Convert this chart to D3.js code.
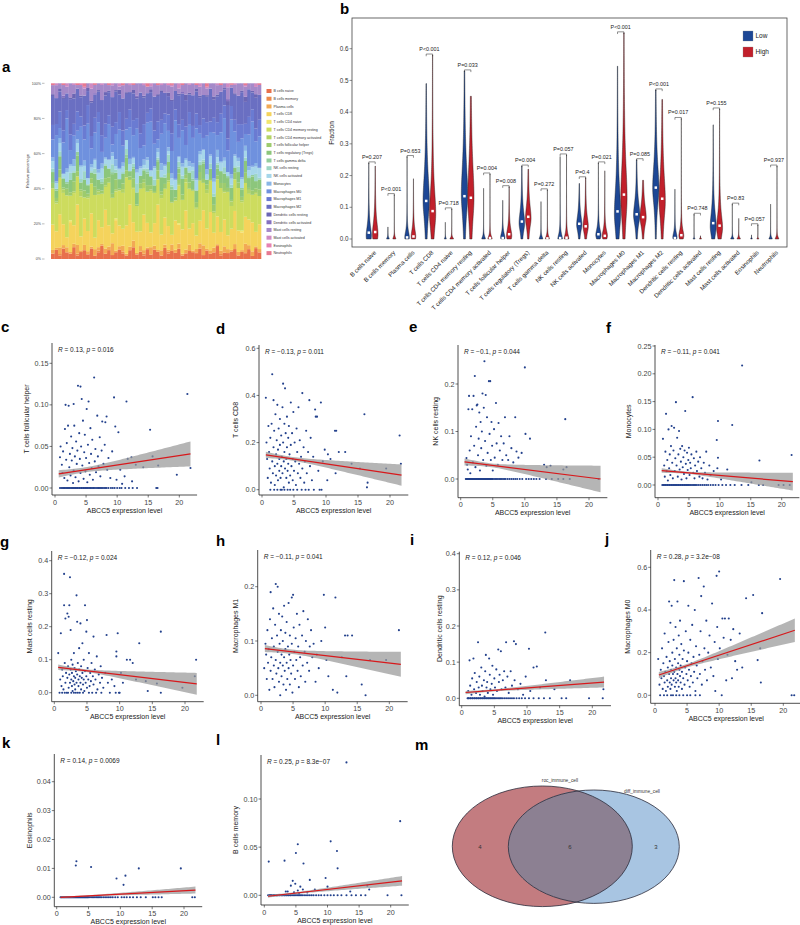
<!DOCTYPE html>
<html><head><meta charset="utf-8">
<script src="https://cdn.jsdelivr.net/npm/d3@7"></script>
<style>body{margin:0;background:#fff}svg{display:block;font-family:"Liberation Sans",Arial,sans-serif}</style>
</head><body><svg id="fig" width="800" height="925"></svg>
<script>
// ================= DATA =================
const cellTypes = ["B cells naive","B cells memory","Plasma cells","T cells CD8","T cells CD4 naive","T cells CD4 memory resting","T cells CD4 memory activated","T cells follicular helper","T cells regulatory (Tregs)","T cells gamma delta","NK cells resting","NK cells activated","Monocytes","Macrophages M0","Macrophages M1","Macrophages M2","Dendritic cells resting","Dendritic cells activated","Mast cells resting","Mast cells activated","Eosinophils","Neutrophils"];
const cellColors = ["#e8704c","#ec8a4c","#f2a955","#f5d35c","#f1e66e","#cddc5e","#b3d365","#9dcb6e","#8cc67c","#93cd9e","#9ed6c6","#a6d6ea","#8ab6e6","#6f91de","#6a7bd2","#6a6fc2","#6b66b4","#8470c0","#a58ac9","#cf8bc2","#e682b2","#e77a92"];

// panel a: per-sample relative amounts (each sample normalised to 100%)
const fBn   = [3,5,2,6,4,3,7,2,4,5,3,6,2,4,8,3,5,2,4,6,3,2,5,7,3,4,2,6,3,5,4,2,7,3,5,4,6,2,3,5,4,3,6,2,5,3,4,7,2,4,3,5,6,2,4,3,5,2,6,4];
const fBm   = [0,0,1,0,0,0,0,1,0,0,0,0,0,1,0,0,0,0,0,0,1,0,0,0,0,0,1,0,0,0,0,0,0,1,0,0,0,0,0,0,0,1,0,0,0,0,0,0,1,0,0,0,0,0,0,1,0,0,0,0];
const fPc   = [2,1,4,2,3,1,2,5,1,3,2,1,4,2,1,3,2,6,1,2,3,1,2,4,1,3,2,1,5,2,1,3,2,1,4,2,3,1,2,4,1,2,3,5,1,2,3,1,2,4,2,1,3,2,1,5,2,3,1,2];
const fCd8  = [14,9,20,12,6,17,11,23,8,15,13,19,7,16,10,22,12,5,18,13,9,16,24,11,14,8,20,15,10,12,25,9,17,13,6,19,11,14,21,10,16,8,13,18,12,22,9,15,11,17,7,14,20,12,10,16,13,19,8,15];
const fCd4n = [0,0,0,0,0,1,0,0,0,0,0,0,0,0,0,0,0,0,1,0,0,0,0,0,0,0,0,0,0,0,0,0,0,0,0,0,1,0,0,0,0,0,0,0,0,0,0,0,0,0,0,0,0,0,1,0,0,0,0,0];
const fCd4r = [20,15,22,18,25,14,19,16,23,12,21,17,26,15,20,13,24,18,16,22,19,27,14,20,17,23,15,19,28,16,14,21,18,24,20,13,22,17,15,25,19,16,23,14,21,18,12,20,26,17,22,15,19,24,16,20,13,18,21,17];
const fCd4a = [0,1,0,2,0,0,1,0,3,0,1,0,0,2,0,1,0,0,1,0,2,0,0,1,0,0,3,0,1,0,0,2,0,1,0,0,1,0,2,0,0,1,0,0,2,0,1,0,0,1,0,3,0,0,1,0,2,0,1,0];
const fTfh  = [3,2,5,1,4,2,6,3,1,4,2,3,5,1,2,4,3,2,6,1,3,4,2,5,1,3,2,4,3,1,5,2,3,4,1,2,6,3,2,4,1,3,5,2,3,1,4,2,3,5,2,1,4,3,2,6,1,3,2,4];
const fTreg = [6,4,8,5,3,7,5,9,4,6,5,3,8,6,4,7,5,10,4,6,5,7,3,6,8,4,5,7,6,3,5,8,4,6,7,5,3,9,4,6,5,7,4,8,3,6,5,4,7,6,5,8,3,6,4,7,5,9,4,6];
const fGd   = [0,1,0,0,1,0,0,2,0,0,1,0,0,0,1,0,0,1,0,0,0,2,0,1,0,0,0,1,0,0,1,0,0,0,2,0,1,0,0,0,1,0,0,1,0,0,0,2,0,0,1,0,0,0,1,0,0,1,0,0];
const fNkr  = [2,0,3,1,0,4,1,0,2,5,0,1,3,0,2,1,0,4,2,0,1,3,0,2,6,0,1,2,0,3,1,0,2,4,1,0,3,2,0,1,5,0,2,1,0,3,2,1,0,4,0,2,1,3,0,2,1,0,4,1];
const fNka  = [4,3,5,2,6,4,3,5,7,3,4,2,5,4,6,3,5,4,2,6,3,5,4,3,7,4,2,5,4,6,3,4,5,2,4,6,3,5,4,3,2,6,4,5,3,4,7,3,5,4,2,4,6,3,5,4,3,5,4,6];
const fMono = [2,1,3,0,2,1,4,2,1,3,0,2,1,2,3,1,0,2,4,1,2,0,3,1,2,1,3,2,0,1,2,4,1,2,3,1,0,2,1,3,2,1,2,0,3,1,2,4,1,2,0,3,1,2,1,3,2,1,2,0];
const fM0   = [10,25,6,18,30,8,14,5,22,12,35,9,16,28,7,11,20,4,15,24,9,6,18,13,27,10,8,21,33,12,5,17,26,9,14,38,11,19,7,23,15,30,10,6,20,13,28,8,17,25,11,36,14,9,22,7,16,29,12,19];
const fM1   = [8,6,10,7,5,9,7,11,6,8,12,7,9,6,10,8,5,9,7,11,8,6,10,9,7,8,12,6,9,7,10,8,6,9,11,7,8,6,10,8,7,9,5,10,8,6,9,7,11,8,6,9,7,10,8,6,9,8,7,10];
const fM2   = [16,14,12,18,10,20,15,13,11,17,9,19,14,12,21,16,13,15,18,11,17,14,10,16,13,22,15,12,11,18,14,16,13,10,20,12,17,15,14,11,18,13,16,12,15,19,11,14,13,10,17,12,15,16,18,13,14,11,17,15];
const fDcr  = [1,0,2,1,0,1,3,0,1,0,2,1,0,1,0,2,1,0,1,3,0,1,0,2,1,0,1,0,2,0,1,1,0,2,1,0,1,0,3,1,0,2,1,0,1,0,2,1,0,1,2,0,1,0,1,3,0,1,2,0];
const fDca  = [0,0,0,1,0,0,0,0,0,0,0,0,1,0,0,0,0,0,0,0,0,0,0,0,1,0,0,0,0,0,0,0,0,0,0,0,0,1,0,0,0,0,0,0,0,0,0,0,0,0,1,0,0,0,0,0,0,0,0,0];
const fMastr= [5,7,3,6,4,8,5,2,6,4,3,7,5,4,9,5,3,6,4,2,7,5,4,3,8,5,6,4,2,7,5,3,6,4,8,5,3,4,6,5,7,2,5,6,4,3,8,5,4,3,6,2,5,7,4,6,3,5,4,6];
const fMasta= [0,1,0,0,2,0,1,0,0,1,0,3,0,0,1,0,0,1,0,2,0,0,1,0,0,0,1,0,2,0,0,1,0,0,1,0,3,0,0,1,0,0,2,0,1,0,0,1,0,0,2,0,1,0,0,1,0,0,2,0];
const fEos  = [0,0,0,0,0,0,0,0,1,0,0,0,0,0,0,0,0,0,0,0,0,0,0,0,0,0,0,0,0,0,0,0,0,1,0,0,0,0,0,0,0,0,0,0,0,0,0,0,0,0,0,0,0,0,0,0,0,0,0,0];
const fNeut = [1,0,0,1,0,0,0,1,0,2,0,0,1,0,0,0,1,0,0,0,1,0,0,1,0,0,0,2,0,0,1,0,0,0,1,0,0,1,0,0,0,1,0,0,2,0,0,0,1,0,0,1,0,0,0,1,0,0,0,1];
const sampleFractions = [fBn,fBm,fPc,fCd8,fCd4n,fCd4r,fCd4a,fTfh,fTreg,fGd,fNkr,fNka,fMono,fM0,fM1,fM2,fDcr,fDca,fMastr,fMasta,fEos,fNeut];
const percentTicks = [0,0.2,0.4,0.6,0.8,1];

// panel b: violins (Low / High ABCC5 groups)
const lowTop   = [0.24,0.038,0.26,0.49,0.053,0.53,0.16,0.122,0.23,0.118,0.26,0.175,0.24,0.545,0.25,0.47,0.157,0.078,0.36,0.11,0.013,0.11];
const highTop  = [0.23,0.14,0.19,0.58,0.095,0.45,0.205,0.165,0.22,0.155,0.265,0.193,0.215,0.65,0.185,0.44,0.38,0.01,0.41,0.065,0.045,0.23];
const lowMed   = [0.02,0,0.005,0.12,0,0.135,0,0.003,0.055,0,0.003,0.048,0.015,0.087,0.078,0.162,0.003,0,0.05,0.002,0,0.003];
const highMed  = [0.022,0.003,0.008,0.088,0.003,0.13,0.003,0.015,0.07,0.002,0.004,0.04,0.01,0.14,0.069,0.127,0.012,0,0.042,0.002,0,0.004];
const lowPeak  = [0.01,0,0.005,0.12,0,0.14,0,0.005,0.05,0,0,0.045,0.012,0.08,0.075,0.16,0.005,0,0.04,0,0,0];
const highPeak = [0.015,0,0.008,0.08,0,0.13,0,0.01,0.065,0,0,0.04,0.01,0.13,0.068,0.12,0.01,0,0.035,0,0,0];
const lowWidth = [0.8,0.4,0.7,0.95,0.3,0.95,0.55,0.65,0.85,0.55,0.7,0.8,0.8,0.95,0.95,0.95,0.65,0.3,0.9,0.5,0.25,0.5];
const highWidth= [0.85,0.45,0.7,0.95,0.55,0.95,0.65,0.8,0.85,0.6,0.7,0.8,0.8,0.95,0.95,0.95,0.75,0.3,0.9,0.5,0.3,0.55];
const lowSpread= [0.04,0.006,0.025,0.11,0.005,0.13,0.01,0.018,0.05,0.01,0.02,0.04,0.025,0.11,0.055,0.1,0.02,0.003,0.06,0.006,0.003,0.007];
const highSpread=[0.05,0.008,0.03,0.1,0.006,0.14,0.012,0.03,0.055,0.012,0.02,0.04,0.025,0.14,0.05,0.11,0.025,0.003,0.055,0.006,0.003,0.008];
const pLabels  = ["P=0.207","P<0.001","P=0.653","P<0.001","P=0.718","P=0.033","P=0.004","P=0.008","P=0.004","P=0.272","P=0.057","P=0.4","P=0.021","P<0.001","P=0.085","P<0.001","P=0.017","P=0.748","P=0.155","P=0.83","P=0.057","P=0.937"];
const fractionTicks = [0,0.1,0.2,0.3,0.4,0.5,0.6];
const groupNames = ["Low","High"];
const groupColors = ["#1d4795","#c1202b"];

// scatter panels c..l  (x = ABCC5 expression level, y = fraction)
const ptsC = [[0.8,0.037],[0.9,0.05],[1.1,0.028],[1.2,0.018],[1.3,0.044],[1.5,0.012],[1.6,0.071],[1.7,0.1],[1.8,0.034],[1.9,0.054],[2.0,0.009],[2.1,0.075],[2.2,0.099],[2.3,0.025],[2.4,0.041],[2.5,0.015],[2.6,0.062],[2.7,0.033],[2.8,0.048],[2.9,0.006],[3.0,0.101],[3.0,0.021],[3.1,0.075],[3.2,0.038],[3.3,0.013],[3.4,0.056],[3.5,0.029],[3.6,0.045],[3.7,0.123],[3.8,0.008],[3.9,0.066],[4.0,0.035],[4.1,0.122],[4.1,0.018],[4.2,0.05],[4.3,0.107],[4.4,0.027],[4.5,0.081],[4.6,0.011],[4.7,0.043],[4.8,0.064],[4.9,0.02],[5.0,0.036],[5.1,0.095],[5.2,0.007],[5.3,0.052],[5.4,0.104],[5.5,0.03],[5.6,0.016],[5.7,0.072],[5.8,0.041],[5.9,0.024],[6.0,0.058],[6.1,0.01],[6.3,0.133],[6.4,0.032],[6.5,0.047],[6.6,0.019],[6.8,0.087],[6.9,0.038],[7.0,0.026],[7.2,0.061],[7.3,0.014],[7.5,0.045],[7.6,0.08],[7.8,0.029],[8.0,0.052],[8.1,0.079],[8.3,0.086],[8.4,0.022],[8.6,0.036],[8.9,0.012],[9.2,0.044],[9.5,0.109],[9.7,0.074],[9.9,0.01],[10.2,0.067],[10.5,0.022],[10.8,0.005],[11.2,0.014],[11.5,0.104],[11.7,0.035],[12.3,0.037],[12.4,0.008],[13.0,0.028],[14.2,0.025],[15.3,0.07],[15.7,0.038],[16.6,0.027],[19.6,0.016],[21.3,0.113],[21.8,0.024]];
const zeroC = [0.8,1.0,1.2,1.4,1.5,1.7,1.9,2.0,2.2,2.3,2.5,2.7,2.8,3.0,3.1,3.3,3.4,3.6,3.7,3.9,4.0,4.2,4.3,4.5,4.6,4.8,4.9,5.1,5.2,5.4,5.6,5.7,5.9,6.1,6.2,6.4,6.6,6.8,7.0,7.1,7.3,7.5,7.7,7.9,8.1,8.3,8.6,9.0,9.3,9.6,10.0,10.4,10.7,11.3,11.9,12.5,13.2,16.3,16.5];
const ptsD = [[0.6,0.39],[0.7,0.2],[0.8,0.13],[0.9,0.05],[1.0,0.27],[1.1,0.16],[1.2,0.09],[1.3,0.22],[1.4,0.03],[1.5,0.28],[1.6,0.49],[1.6,0.12],[1.7,0.07],[1.8,0.38],[1.8,0.18],[1.9,0.25],[2.0,0.1],[2.0,0.02],[2.1,0.32],[2.2,0.15],[2.2,0.06],[2.3,0.21],[2.4,0.11],[2.4,0.36],[2.5,0.04],[2.5,0.17],[2.6,0.26],[2.7,0.08],[2.7,0.13],[2.8,0.3],[2.8,0.19],[2.9,0.05],[3.0,0.23],[3.0,0.1],[3.1,0.14],[3.2,0.35],[3.2,0.07],[3.3,0.45],[3.3,0.2],[3.4,0.12],[3.4,0.01],[3.5,0.28],[3.5,0.16],[3.6,0.43],[3.6,0.09],[3.7,0.24],[3.8,0.05],[3.8,0.13],[3.9,0.31],[3.9,0.18],[4.0,0.08],[4.1,0.22],[4.1,0.11],[4.2,0.03],[4.2,0.27],[4.3,0.15],[4.4,0.06],[4.5,0.37],[4.5,0.19],[4.6,0.1],[4.7,0.24],[4.8,0.13],[4.8,0.04],[4.9,0.33],[5.0,0.08],[5.1,0.2],[5.2,0.12],[5.3,0.02],[5.4,0.26],[5.5,0.16],[5.6,0.07],[5.7,0.35],[5.8,0.11],[5.9,0.21],[6.0,0.05],[6.1,0.14],[6.3,0.41],[6.3,0.09],[6.5,0.18],[6.6,0.03],[6.7,0.12],[6.9,0.25],[7.0,0.07],[7.2,0.16],[7.4,0.38],[7.5,0.1],[7.6,0.22],[7.8,0.04],[8.0,0.14],[8.3,0.34],[8.4,0.31],[8.6,0.31],[8.8,0.08],[9.2,0.37],[9.3,0.0],[9.5,0.12],[9.8,0.17],[10.3,0.15],[10.2,0.04],[10.7,0.13],[11.4,0.25],[11.6,0.25],[11.5,0.07],[12.0,0.16],[13.0,0.16],[14.0,0.11],[15.3,0.09],[16.0,0.32],[16.4,0.01],[16.5,0.03],[19.4,0.09],[21.5,0.23],[21.7,0.11]];
const zeroD = [1.3,1.9,2.4,2.9,3.1,3.5,4.0,4.4,4.9,5.5,6.2,6.8,7.3,8.1,9.0];
const ptsE = [[0.9,0.044],[1.0,0.03],[1.1,0.02],[1.2,0.147],[1.3,0.175],[1.4,0.06],[1.5,0.012],[1.6,0.09],[1.8,0.147],[1.9,0.035],[2.0,0.175],[2.1,0.07],[2.2,0.217],[2.3,0.025],[2.4,0.11],[2.5,0.155],[2.6,0.157],[2.7,0.05],[2.8,0.085],[2.9,0.14],[3.0,0.018],[3.1,0.12],[3.2,0.065],[3.3,0.1],[3.4,0.18],[3.5,0.04],[3.6,0.15],[3.7,0.248],[3.8,0.08],[3.9,0.177],[4.0,0.028],[4.1,0.13],[4.2,0.055],[4.4,0.206],[4.5,0.095],[4.6,0.206],[4.7,0.04],[4.8,0.12],[4.9,0.07],[5.0,0.018],[5.2,0.105],[5.3,0.045],[5.5,0.16],[5.6,0.075],[5.8,0.03],[5.9,0.118],[6.1,0.06],[6.3,0.09],[6.5,0.04],[6.7,0.075],[6.9,0.13],[7.1,0.05],[7.4,0.04],[7.6,0.09],[7.9,0.065],[8.2,0.035],[8.5,0.13],[8.7,0.058],[9.0,0.045],[9.5,0.055],[10.0,0.235],[10.1,0.095],[10.8,0.085],[13.0,0.03],[13.4,0.025],[14.0,0.028],[16.0,0.02],[16.3,0.126],[16.5,0.025]];
const zeroE = [0.8,0.9,1.0,1.1,1.2,1.3,1.4,1.5,1.6,1.7,1.8,1.9,2.0,2.1,2.2,2.3,2.4,2.5,2.6,2.7,2.8,2.9,3.0,3.1,3.2,3.3,3.4,3.5,3.6,3.7,3.8,3.9,4.0,4.1,4.2,4.3,4.4,4.5,4.6,4.7,4.8,4.9,5.0,5.2,5.4,5.6,5.8,6.0,6.2,6.4,6.6,6.8,7.0,7.3,7.6,7.9,8.2,8.5,8.8,9.2,9.6,10.2,10.6,11.0,11.4,11.8,12.3,13.3,14.2,15.2,16.0,17.0,21.5];
const ptsF = [[0.8,0.083],[1.0,0.035],[1.1,0.015],[1.2,0.06],[1.3,0.128],[1.4,0.025],[1.5,0.045],[1.6,0.008],[1.7,0.1],[1.8,0.03],[1.9,0.055],[2.0,0.018],[2.1,0.07],[2.2,0.106],[2.3,0.04],[2.4,0.012],[2.5,0.062],[2.6,0.103],[2.7,0.025],[2.8,0.048],[2.9,0.149],[3.0,0.035],[3.1,0.085],[3.2,0.015],[3.3,0.055],[3.4,0.097],[3.5,0.028],[3.6,0.065],[3.7,0.042],[3.8,0.01],[3.9,0.07],[4.0,0.032],[4.1,0.05],[4.2,0.02],[4.3,0.062],[4.4,0.133],[4.5,0.038],[4.6,0.012],[4.7,0.058],[4.8,0.027],[4.9,0.045],[5.0,0.067],[5.1,0.018],[5.2,0.04],[5.3,0.03],[5.4,0.055],[5.6,0.158],[5.7,0.022],[5.8,0.048],[5.9,0.012],[6.0,0.035],[6.2,0.06],[6.3,0.025],[6.5,0.042],[6.7,0.015],[6.8,0.05],[7.0,0.03],[7.2,0.012],[7.4,0.04],[7.6,0.022],[7.8,0.06],[8.0,0.01],[8.3,0.035],[8.5,0.018],[9.0,0.025],[9.5,0.081],[9.6,0.03],[9.7,0.115],[9.7,0.049],[10.2,0.01],[11.2,0.028],[12.0,0.108],[13.6,0.215],[15.1,0.005],[16.4,0.044],[21.6,0.054]];
const zeroF = [0.7,0.9,1.0,1.2,1.3,1.5,1.6,1.8,1.9,2.1,2.2,2.4,2.5,2.7,2.8,3.0,3.1,3.3,3.4,3.6,3.7,3.9,4.0,4.2,4.3,4.5,4.6,4.8,4.9,5.1,5.3,5.5,5.7,5.9,6.1,6.3,6.6,6.9,7.2,7.5,7.8,8.1,8.5,8.9,9.3,9.8,10.4,11.0,11.7,12.4,13.5,14.6,16.3,17.0,19.5,20.3,21.3];
const ptsG = [[0.6,0.12],[0.8,0.0],[0.9,0.04],[1.0,0.18],[1.1,0.02],[1.2,0.07],[1.3,0.05],[1.4,0.01],[1.5,0.36],[1.5,0.265],[1.6,0.09],[1.7,0.225],[1.7,0.03],[1.8,0.06],[1.9,0.0],[2.0,0.24],[2.0,0.045],[2.1,0.08],[2.2,0.23],[2.2,0.015],[2.3,0.265],[2.3,0.055],[2.4,0.35],[2.4,0.03],[2.5,0.07],[2.5,0.19],[2.6,0.04],[2.6,0.1],[2.7,0.02],[2.7,0.06],[2.8,0.005],[2.8,0.085],[2.9,0.035],[3.0,0.05],[3.0,0.12],[3.1,0.025],[3.1,0.075],[3.2,0.01],[3.2,0.045],[3.3,0.065],[3.4,0.295],[3.4,0.03],[3.5,0.215],[3.5,0.055],[3.6,0.0],[3.6,0.09],[3.7,0.04],[3.7,0.02],[3.8,0.07],[3.8,0.135],[3.9,0.05],[4.0,0.21],[4.0,0.03],[4.1,0.08],[4.1,0.01],[4.2,0.045],[4.3,0.06],[4.3,0.15],[4.4,0.025],[4.5,0.1],[4.5,0.04],[4.6,0.005],[4.7,0.265],[4.7,0.065],[4.8,0.03],[4.9,0.185],[4.9,0.05],[5.0,0.22],[5.0,0.015],[5.1,0.075],[5.2,0.04],[5.3,0.12],[5.4,0.02],[5.5,0.06],[5.6,0.035],[5.7,0.09],[5.8,0.0],[5.9,0.05],[6.0,0.17],[6.0,0.025],[6.2,0.07],[6.3,0.04],[6.5,0.11],[6.6,0.01],[6.8,0.055],[7.0,0.03],[7.1,0.08],[7.3,0.045],[7.5,0.015],[7.8,0.06],[8.0,0.175],[8.2,0.03],[8.5,0.0],[8.8,0.04],[9.2,0.02],[9.5,0.11],[9.5,0.125],[9.7,0.18],[9.9,0.0],[10.2,0.06],[10.5,0.03],[11.1,0.1],[11.6,0.1],[12.0,0.09],[12.5,0.04],[13.0,0.15],[14.0,0.035],[14.3,0.005],[15.7,0.028],[16.3,0.185],[16.3,0.0],[19.6,0.015],[21.5,0.05],[21.7,0.1]];
const zeroG = [1.2,1.6,2.1,2.6,3.0,3.3,3.9,4.4,5.3,6.4,7.2,9.4,10.0];
const ptsH = [[0.5,0.05],[0.7,0.095],[0.8,0.075],[0.9,0.03],[1.0,0.12],[1.1,0.06],[1.2,0.085],[1.3,0.01],[1.4,0.14],[1.5,0.19],[1.5,0.045],[1.6,0.07],[1.7,0.105],[1.8,0.03],[1.9,0.16],[2.0,0.055],[2.0,0.09],[2.1,0.015],[2.2,0.13],[2.3,0.205],[2.3,0.065],[2.4,0.04],[2.5,0.11],[2.6,0.2],[2.6,0.08],[2.7,0.05],[2.8,0.15],[2.8,0.025],[2.9,0.095],[3.0,0.06],[3.0,0.0],[3.1,0.12],[3.2,0.075],[3.2,0.035],[3.3,0.145],[3.4,0.055],[3.4,0.1],[3.5,0.02],[3.6,0.165],[3.6,0.07],[3.7,0.045],[3.8,0.115],[3.8,0.085],[3.9,0.01],[4.0,0.06],[4.0,0.135],[4.1,0.03],[4.2,0.09],[4.3,0.05],[4.3,0.17],[4.4,0.075],[4.5,0.02],[4.5,0.11],[4.6,0.065],[4.7,0.04],[4.8,0.18],[4.8,0.095],[4.9,0.005],[5.0,0.185],[5.0,0.055],[5.1,0.125],[5.2,0.08],[5.3,0.03],[5.4,0.105],[5.5,0.065],[5.6,0.15],[5.7,0.045],[5.8,0.09],[5.9,0.015],[6.0,0.13],[6.1,0.07],[6.2,0.035],[6.4,0.11],[6.5,0.055],[6.6,0.155],[6.8,0.08],[6.9,0.025],[7.0,0.1],[7.2,0.06],[7.3,0.14],[7.5,0.045],[7.6,0.09],[7.8,0.12],[8.0,0.07],[8.2,0.095],[8.5,0.025],[8.7,0.075],[9.0,0.05],[9.4,0.1],[9.8,0.185],[10.0,0.125],[10.2,0.065],[10.5,0.035],[11.2,0.01],[11.6,0.18],[11.9,0.005],[12.6,0.07],[13.1,0.11],[13.3,0.035],[13.5,0.11],[14.2,0.11],[15.7,0.02],[16.3,0.0],[17.0,0.065],[19.5,0.065],[21.5,0.12]];
const zeroH = [];
const ptsI = [[1.0,0.02],[1.2,0.105],[1.3,0.035],[1.5,0.01],[1.6,0.055],[1.8,0.11],[1.9,0.025],[2.0,0.07],[2.2,0.015],[2.3,0.045],[2.5,0.155],[2.6,0.03],[2.7,0.06],[2.8,0.01],[3.0,0.085],[3.1,0.035],[3.2,0.02],[3.4,0.05],[3.5,0.005],[3.6,0.075],[3.7,0.12],[3.8,0.03],[3.9,0.045],[4.0,0.015],[4.2,0.11],[4.3,0.065],[4.4,0.025],[4.6,0.04],[4.7,0.09],[4.8,0.01],[5.0,0.055],[5.1,0.03],[5.3,0.08],[5.4,0.02],[5.6,0.135],[5.7,0.045],[5.8,0.065],[6.0,0.13],[6.1,0.025],[6.3,0.05],[6.5,0.075],[6.7,0.03],[6.8,0.155],[7.0,0.06],[7.2,0.015],[7.5,0.075],[7.7,0.035],[8.0,0.158],[8.1,0.05],[8.3,0.15],[8.6,0.025],[9.0,0.04],[9.4,0.01],[9.8,0.06],[10.3,0.137],[10.5,0.02],[11.0,0.085],[11.5,0.088],[12.0,0.03],[12.8,0.182],[12.9,0.05],[14.2,0.025],[16.6,0.05],[21.7,0.025]];
const zeroI = [0.9,1.0,1.1,1.3,1.4,1.6,1.7,1.9,2.0,2.2,2.3,2.5,2.6,2.8,2.9,3.1,3.2,3.4,3.5,3.7,3.8,4.0,4.1,4.3,4.4,4.6,4.7,4.9,5.0,5.2,5.4,5.6,5.8,6.0,6.2,6.5,6.8,7.1,7.4,7.7,8.0,8.4,8.8,9.2,9.7,10.3,11.0,11.8,12.6,13.5,15.3,16.0,19.5,21.6];
const ptsJ = [[0.5,0.17],[0.7,0.05],[0.8,0.0],[0.9,0.12],[1.0,0.08],[1.1,0.22],[1.2,0.03],[1.3,0.15],[1.4,0.09],[1.5,0.29],[1.5,0.06],[1.6,0.11],[1.7,0.02],[1.8,0.18],[1.9,0.07],[2.0,0.13],[2.0,0.04],[2.1,0.25],[2.2,0.44],[2.2,0.1],[2.3,0.06],[2.3,0.16],[2.4,0.03],[2.4,0.34],[2.5,0.12],[2.5,0.08],[2.6,0.42],[2.6,0.05],[2.7,0.2],[2.7,0.14],[2.8,0.1],[2.8,0.0],[2.9,0.07],[2.9,0.26],[3.0,0.54],[3.0,0.11],[3.1,0.04],[3.1,0.17],[3.2,0.32],[3.2,0.08],[3.3,0.13],[3.3,0.06],[3.4,0.22],[3.4,0.02],[3.5,0.44],[3.5,0.1],[3.6,0.15],[3.6,0.07],[3.7,0.28],[3.7,0.04],[3.8,0.12],[3.8,0.19],[3.9,0.09],[3.9,0.35],[4.0,0.06],[4.0,0.14],[4.1,0.24],[4.2,0.03],[4.2,0.11],[4.3,0.17],[4.4,0.08],[4.5,0.535],[4.5,0.21],[4.6,0.05],[4.7,0.13],[4.8,0.3],[4.9,0.1],[5.0,0.16],[5.0,0.0],[5.1,0.07],[5.2,0.42],[5.2,0.2],[5.3,0.12],[5.4,0.04],[5.5,0.26],[5.6,0.09],[5.7,0.15],[5.8,0.33],[5.9,0.06],[6.0,0.18],[6.1,0.11],[6.2,0.4],[6.3,0.02],[6.4,0.23],[6.5,0.14],[6.6,0.08],[6.8,0.55],[6.9,0.19],[7.0,0.1],[7.1,0.3],[7.2,0.465],[7.3,0.05],[7.4,0.16],[7.6,0.51],[7.7,0.22],[7.8,0.12],[8.0,0.35],[8.1,0.07],[8.3,0.2],[8.5,0.28],[8.7,0.13],[8.9,0.43],[9.1,0.09],[9.3,0.25],[9.4,0.02],[9.6,0.56],[9.7,0.32],[9.8,0.17],[10.0,0.58],[10.1,0.22],[10.4,0.0],[10.5,0.36],[10.7,0.27],[10.9,0.36],[11.1,0.07],[11.3,0.19],[11.5,0.36],[11.8,0.26],[12.0,0.08],[12.2,0.31],[12.5,0.16],[12.8,0.12],[13.2,0.29],[13.6,0.13],[14.2,0.455],[15.3,0.47],[16.0,0.165],[16.4,0.22],[16.5,0.06],[16.7,0.385],[19.5,0.545],[21.3,0.0],[21.7,0.0]];
const zeroJ = [1.4,1.9,2.5,3.3,3.8,4.4,5.5,6.3,7.0];
const ptsK = [[3.0,0.011],[3.1,0.0125],[5.4,0.0105],[9.4,0.0065],[10.5,0.0043],[10.8,0.0075],[12.9,0.01],[19.5,0.01]];
const zeroK = [0.6,0.7,0.8,0.9,1.0,1.1,1.2,1.3,1.4,1.5,1.6,1.7,1.8,1.9,2.0,2.1,2.2,2.3,2.4,2.5,2.6,2.7,2.8,2.9,3.0,3.1,3.2,3.3,3.4,3.5,3.6,3.7,3.8,3.9,4.0,4.1,4.2,4.3,4.4,4.5,4.6,4.7,4.8,4.9,5.0,5.2,5.4,5.6,5.8,6.0,6.2,6.4,6.6,6.8,7.0,7.3,7.6,7.9,8.2,8.5,8.8,9.2,9.6,10.2,10.6,11.0,11.5,12.0,12.6,13.2,14.0,15.1,15.5,16.0,16.5,21.3,21.7];
const ptsL = [[0.7,0.035],[3.2,0.036],[3.4,0.004],[3.7,0.004],[4.2,0.01],[4.5,0.015],[4.7,0.003],[4.9,0.012],[5.0,0.044],[5.3,0.053],[5.3,0.005],[5.5,0.002],[5.7,0.009],[6.1,0.006],[6.2,0.033],[6.8,0.003],[7.2,0.016],[8.0,0.006],[9.7,0.018],[10.0,0.009],[10.5,0.056],[11.5,0.046],[11.6,0.028],[13.0,0.138],[13.6,0.004],[16.3,0.01],[16.6,0.006],[21.5,0.077]];
const zeroL = [0.6,0.8,0.9,1.0,1.1,1.2,1.4,1.5,1.6,1.7,1.9,2.0,2.1,2.3,2.4,2.5,2.7,2.8,2.9,3.1,3.2,3.3,3.5,3.6,3.8,3.9,4.1,4.2,4.4,4.6,4.8,5.0,5.2,5.4,5.6,5.8,6.0,6.3,6.6,6.9,7.2,7.5,7.8,8.2,8.6,9.0,9.5,10.0,10.5,11.0,11.6,12.2,13.0,13.8,14.5,15.3,16.0,19.5,21.7];

const scatterKeys   = ["c","d","e","f","g","h","i","j","k","l"];
const scatterPoints = [ptsC,ptsD,ptsE,ptsF,ptsG,ptsH,ptsI,ptsJ,ptsK,ptsL];
const scatterZeros  = [zeroC,zeroD,zeroE,zeroF,zeroG,zeroH,zeroI,zeroJ,zeroK,zeroL];
const scatterYTitles= ["T cells follicular helper","T cells CD8","NK cells resting","Monocytes","Mast cells resting","Macrophages M1","Dendritic cells resting","Macrophages M0","Eosinophils","B cells memory"];
const statR = ["0.13","\u22120.13","\u22120.1","\u22120.11","\u22120.12","\u22120.11","0.12","0.28","0.14","0.25"];
const statP = ["0.016","0.011","0.044","0.041","0.024","0.041","0.046","3.2e\u221208","0.0069","8.3e\u221207"];
const fitStartY = [0.017,0.148,0.036,0.026,0.077,0.086,0.016,0.095,0.0,-0.001];
const fitEndY   = [0.041,0.062,0.0,0.006,0.027,0.057,0.045,0.305,0.0025,0.015];
const ciHalfMid = [0.003,0.008,0.004,0.002,0.004,0.004,0.003,0.008,0.0002,0.001];
const ciHalfEnd = [0.015,0.045,0.028,0.016,0.033,0.023,0.015,0.055,0.0012,0.005];
const yTickValues = [[0,0.05,0.10,0.15],[0,0.2,0.4,0.6],[0,0.1,0.2],[0,0.05,0.10,0.15,0.20,0.25],[0,0.1,0.2,0.3,0.4],[0,0.1,0.2],[0,0.1,0.2,0.3,0.4],[0,0.2,0.4,0.6],[0,0.01,0.02,0.03,0.04],[0,0.05,0.10]];
const yTickDecimals = [2,1,1,2,1,1,1,1,2,2];
const xTickValues = [0,5,10,15,20];
const fitRange = [0.6,21.8];

// panel m: Venn
const vennSetNames = ["roc_immune_cell","diff_immune_cell"];
const vennCounts = [4,6,3];

// ================= LAYOUT =================
const svg = d3.select("#fig");
const INK = "#222";
function panelLetter(t,x,y){ svg.append("text").attr("x",x).attr("y",y).attr("font-size",15).attr("font-weight","bold").attr("fill","#000").text(t); }

// ---------- Panel a ----------
(function(){
  const n = fBn.length;
  const rows = d3.range(n).map(i=>{
    const o = {}; const tot = d3.sum(sampleFractions, s=>s[i]);
    cellTypes.forEach((c,k)=>{ o[c] = sampleFractions[k][i]/tot; });
    return o;
  });
  const series = d3.stack().keys(cellTypes)(rows);
  const x = d3.scaleBand().domain(d3.range(n)).range([51,261]).padding(0);
  const y = d3.scaleLinear().domain([0,1]).range([259,83.3]);
  const g = svg.append("g");
  series.forEach((s,k)=>{
    g.append("g").attr("fill",cellColors[k]).selectAll("rect").data(s).join("rect")
      .attr("x",(d,i)=>x(i)).attr("width",x.bandwidth()+0.3)
      .attr("y",d=>y(d[1])).attr("height",d=>Math.max(0,y(d[0])-y(d[1])));
  });
  const ax = g.append("g");
  percentTicks.forEach(v=>{
    ax.append("line").attr("x1",42).attr("x2",44.5).attr("y1",y(v)).attr("y2",y(v)).attr("stroke","#555").attr("stroke-width",0.4);
    ax.append("text").attr("x",41).attr("y",y(v)).attr("dy","0.35em").attr("text-anchor","end").attr("font-size",3.6).attr("fill","#444").text(d3.format(".0%")(v));
  });
  g.append("text").attr("transform",`translate(29,${(83+259)/2}) rotate(-90)`).attr("text-anchor","middle").attr("font-size",3.8).attr("fill","#333").text("Relative percentage");
  const lg = g.append("g");
  cellTypes.forEach((c,k)=>{
    const yy = 91 + k*7.72;
    lg.append("rect").attr("x",266.5).attr("y",yy-2).attr("width",5).attr("height",4).attr("fill",cellColors[k]);
    lg.append("text").attr("x",273.5).attr("y",yy).attr("dy","0.35em").attr("font-size",3.6).attr("fill","#333").text(c);
  });
  panelLetter("a",2,72);
})();

// ---------- Panel b ----------
(function(){
  const x = d3.scalePoint().domain(cellTypes).range([372,773.8]);
  const y = d3.scaleLinear().domain([0,0.6]).range([239,48.7]);
  const off = 3.2, VW = 3.3;
  const g = svg.append("g");
  g.append("rect").attr("x",352).attr("y",18).attr("width",435).attr("height",229).attr("fill","none").attr("stroke","#444").attr("stroke-width",0.8);
  fractionTicks.forEach(v=>{
    g.append("line").attr("x1",349.5).attr("x2",352).attr("y1",y(v)).attr("y2",y(v)).attr("stroke","#444").attr("stroke-width",0.6);
    g.append("text").attr("x",348.5).attr("y",y(v)).attr("dy","0.35em").attr("text-anchor","end").attr("font-size",6.3).attr("fill","#333").text(d3.format(".1f")(v));
  });
  g.append("text").attr("transform","translate(334,133) rotate(-90)").attr("text-anchor","middle").attr("font-size",6.5).attr("fill","#222").text("Fraction");
  function violin(cx, top, peak, w, s){
    const N = 90, pts = [];
    for(let i=0;i<=N;i++){ const v = top*i/N; const d = (v-peak)/(v<peak? s*0.7 : s); pts.push([v, w*VW/(1+d*d)]); }
    const left = pts.map(p=>[cx-p[1], y(p[0])]);
    const right = pts.slice().reverse().map(p=>[cx+p[1], y(p[0])]);
    return d3.line()(left.concat(right))+"Z";
  }
  cellTypes.forEach((c,i)=>{
    const cx = x(c);
    const grp = [
      {cx:cx-off, top:lowTop[i], med:lowMed[i], peak:lowPeak[i], w:lowWidth[i], s:lowSpread[i], col:groupColors[0]},
      {cx:cx+off, top:highTop[i], med:highMed[i], peak:highPeak[i], w:highWidth[i], s:highSpread[i], col:groupColors[1]}];
    grp.forEach(v=>{
      g.append("path").attr("d",violin(v.cx,v.top,v.peak,v.w,v.s)).attr("fill",v.col).attr("stroke","#151515").attr("stroke-width",0.4);
      if (v.w>=0.6) g.append("rect").attr("x",v.cx-1.25).attr("y",y(v.med)-1.25).attr("width",2.5).attr("height",2.5).attr("fill","#fff");
    });
    const yt = y(Math.max(lowTop[i],highTop[i]))-1;
    g.append("path").attr("d",`M${cx-off},${yt+2.2}V${yt}H${cx+off}V${yt+2.2}`).attr("fill","none").attr("stroke","#222").attr("stroke-width",0.5);
    g.append("text").attr("x",cx).attr("y",yt-3).attr("text-anchor","middle").attr("font-size",5.4).attr("fill","#222").text(pLabels[i]);
    g.append("text").attr("transform",`translate(${cx+2},250.5) rotate(-45)`).attr("text-anchor","end").attr("dy","0.6em").attr("font-size",6.1).attr("fill","#222").text(c);
  });
  groupNames.forEach((nm,k)=>{
    g.append("rect").attr("x",743).attr("y",31+k*16).attr("width",10).attr("height",10).attr("fill",groupColors[k]).attr("stroke","#888").attr("stroke-width",0.3);
    g.append("text").attr("x",755.5).attr("y",36+k*16).attr("dy","0.35em").attr("font-size",6.5).attr("fill","#222").text(nm);
  });
  panelLetter("b",340,14);
})();

// ---------- Scatter panels ----------
const scatterLayout = [
 {axisX:52,   x0:55,    x20:179.3, top:343,   bottom:495,   y0:488,   refV:0.15, refY:363.3, titleX:29,    lx:1,   ly:332},
 {axisX:259,  x0:262,   x20:390,   top:345,   bottom:495,   y0:489.7, refV:0.6,  refY:348.3, titleX:238,   lx:216, ly:334},
 {axisX:458,  x0:460.7, x20:589,   top:345,   bottom:497.7, y0:479,   refV:0.2,  refY:384,   titleX:437.7, lx:409, ly:332},
 {axisX:655,  x0:658,   x20:781.7, top:345,   bottom:497.7, y0:485,   refV:0.25, refY:346,   titleX:631,   lx:606, ly:333},
 {axisX:51.7, x0:54.3,  x20:185,   top:551,   bottom:701.7, y0:692.7, refV:0.4,  refY:560.7, titleX:32,    lx:0,   ly:547},
 {axisX:257.7,x0:261,   x20:389.3, top:550,   bottom:701.7, y0:695.3, refV:0.2,  refY:586.7, titleX:238,   lx:216, ly:546},
 {axisX:459.3,x0:461.7, x20:592.3, top:551.7, bottom:705.7, y0:698.3, refV:0.4,  refY:553.7, titleX:441.7, lx:410, ly:545},
 {axisX:650.7,x0:655,   x20:783.3, top:550,   bottom:703.3, y0:695.3, refV:0.6,  refY:567.3, titleX:630,   lx:605, ly:544},
 {axisX:54.3, x0:56.7,  x20:184,   top:754,   bottom:906.7, y0:897.3, refV:0.04, refY:781.7, titleX:31.7,  lx:2,   ly:748},
 {axisX:261,  x0:264.3, x20:390.7, top:755,   bottom:905,   y0:895.3, refV:0.10, refY:799,   titleX:238,   lx:216, ly:745}
];
scatterKeys.forEach((key,i)=>{
  const L = scatterLayout[i];
  const x = d3.scaleLinear().domain([0,20]).range([L.x0,L.x20]);
  const y = d3.scaleLinear().domain([0,L.refV]).range([L.y0,L.refY]);
  const xEnd = x(22.86);
  const g = svg.append("g");
  // points
  const all = scatterPoints[i].concat(scatterZeros[i].map(v=>[v,0]));
  g.append("g").selectAll("circle").data(all).join("circle")
    .attr("cx",d=>x(d[0])).attr("cy",d=>y(d[1])).attr("r",1.05).attr("fill","#22408c");
  // regression fit + confidence band
  const m = 4.5, hm = ciHalfMid[i], he = ciHalfEnd[i];
  const k2 = (he*he-hm*hm)/Math.pow(fitRange[1]-m,2);
  const fitY = v => fitStartY[i] + (fitEndY[i]-fitStartY[i])*(v-fitRange[0])/(fitRange[1]-fitRange[0]);
  const xs = d3.range(0,61).map(j=>fitRange[0]+(fitRange[1]-fitRange[0])*j/60);
  const band = xs.map(v=>{ const h=Math.sqrt(hm*hm+k2*(v-m)*(v-m)); return [v,fitY(v)-h,fitY(v)+h]; });
  g.append("path").attr("d",d3.area().x(d=>x(d[0])).y0(d=>y(d[1])).y1(d=>y(d[2]))(band)).attr("fill","#999").attr("opacity",0.72);
  g.append("path").attr("d",d3.line().x(d=>x(d)).y(d=>y(fitY(d)))(fitRange)).attr("stroke","#d7191c").attr("stroke-width",1.2).attr("fill","none");
  // axes
  g.append("line").attr("x1",L.axisX).attr("x2",L.axisX).attr("y1",L.top).attr("y2",L.bottom).attr("stroke",INK).attr("stroke-width",0.8);
  g.append("line").attr("x1",L.axisX).attr("x2",xEnd).attr("y1",L.bottom).attr("y2",L.bottom).attr("stroke",INK).attr("stroke-width",0.8);
  yTickValues[i].forEach(v=>{
    g.append("line").attr("x1",L.axisX-2.5).attr("x2",L.axisX).attr("y1",y(v)).attr("y2",y(v)).attr("stroke",INK).attr("stroke-width",0.6);
    g.append("text").attr("x",L.axisX-3.5).attr("y",y(v)).attr("dy","0.35em").attr("text-anchor","end").attr("font-size",7.2).attr("fill","#444").text(v.toFixed(yTickDecimals[i]));
  });
  xTickValues.forEach(v=>{
    g.append("line").attr("x1",x(v)).attr("x2",x(v)).attr("y1",L.bottom).attr("y2",L.bottom+2.5).attr("stroke",INK).attr("stroke-width",0.6);
    g.append("text").attr("x",x(v)).attr("y",L.bottom+9.5).attr("text-anchor","middle").attr("font-size",7.2).attr("fill","#444").text(v);
  });
  g.append("text").attr("x",(L.axisX+xEnd)/2).attr("y",L.bottom+17.5).attr("text-anchor","middle").attr("font-size",7).attr("fill","#222").text("ABCC5 expression level");
  g.append("text").attr("transform",`translate(${L.titleX},${(L.top+L.bottom)/2}) rotate(-90)`).attr("text-anchor","middle").attr("font-size",7).attr("fill","#222").text(scatterYTitles[i]);
  const st = g.append("text").attr("x",L.axisX+6).attr("y",L.top+8.5).attr("font-size",6.5).attr("fill","#222");
  st.append("tspan").attr("font-style","italic").text("R");
  st.append("tspan").text(" = "+statR[i]+", ");
  st.append("tspan").attr("font-style","italic").text("p");
  st.append("tspan").text(" = "+statP[i]);
  panelLetter(key,L.lx,L.ly);
})

// ---------- Panel m: Venn ----------
;(function(){
  const g = svg.append("g");
  const A = {cx:542.3, cy:846.3, rx:90, ry:60.3};
  const B = {cx:593.8, cy:846.7, rx:85.5, ry:56.7};
  const defs = svg.append("defs");
  defs.append("clipPath").attr("id","clipA").append("ellipse").attr("cx",A.cx).attr("cy",A.cy).attr("rx",A.rx).attr("ry",A.ry);
  g.append("ellipse").attr("cx",A.cx).attr("cy",A.cy).attr("rx",A.rx).attr("ry",A.ry).attr("fill","#c37c80");
  g.append("ellipse").attr("cx",B.cx).attr("cy",B.cy).attr("rx",B.rx).attr("ry",B.ry).attr("fill","#a8c5e2");
  g.append("ellipse").attr("cx",B.cx).attr("cy",B.cy).attr("rx",B.rx).attr("ry",B.ry).attr("fill","#8c8092").attr("clip-path","url(#clipA)");
  [A,B].forEach(e=>g.append("ellipse").attr("cx",e.cx).attr("cy",e.cy).attr("rx",e.rx).attr("ry",e.ry).attr("fill","none").attr("stroke","#2b2b3a").attr("stroke-width",0.8));
  const cnt = [[480,846.7],[570,846.7],[656,846.7]];
  vennCounts.forEach((c,k)=>g.append("text").attr("x",cnt[k][0]).attr("y",cnt[k][1]).attr("dy","0.35em").attr("text-anchor","middle").attr("font-size",6).attr("fill","#333").text(c));
  g.append("text").attr("x",560).attr("y",782).attr("text-anchor","middle").attr("font-size",4.8).attr("fill","#333").text(vennSetNames[0]);
  g.append("text").attr("x",642).attr("y",792.5).attr("text-anchor","middle").attr("font-size",4.8).attr("fill","#333").text(vennSetNames[1]);
  panelLetter("m",415,750);
})();
</script></body></html>
